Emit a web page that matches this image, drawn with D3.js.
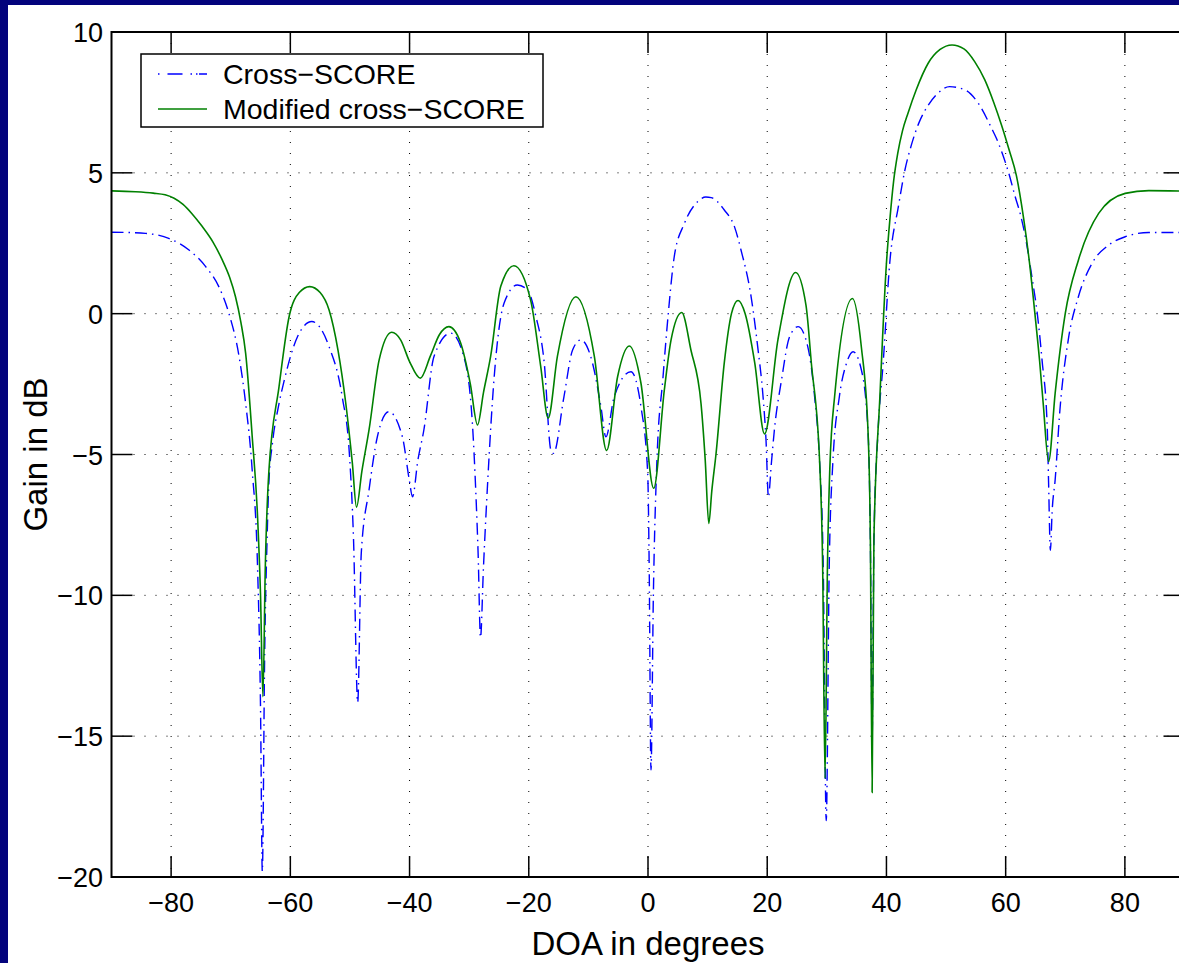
<!DOCTYPE html>
<html lang="en">
<head>
<meta charset="UTF-8">
<title>Cross-SCORE gain vs DOA</title>
<script src="https://d3js.org/d3.v7.min.js"></script>
<style>
  html, body { margin: 0; padding: 0; background: #03037c; }
  svg { display: block; }
  text { font-family: "Liberation Sans", Arial, sans-serif; fill: #000; }
</style>
</head>
<body>
<div id="chart"></div>
<script>
// values
const crossDoa = [-90, -87, -84.3, -82, -80.4, -78.5, -77, -74.2, -72, -70.3, -68.6, -67.5, -66.4, -65.5, -65, -64.7, -64.3, -63.9, -63.6, -63, -62, -61, -59.5, -58.8, -56.4, -53.5, -51.3, -50.1, -49.4, -48.7, -48.1, -46.8, -45.4, -43.5, -41.2, -40.05, -39.5, -38.6, -37.6, -35.9, -33.1, -30.9, -29.46, -28.9, -28.5, -28.1, -27.6, -26.9, -25.8, -24.15, -21.9, -20.2, -18.8, -17.4, -16.3, -15.85, -14.1, -12.65, -11.26, -9.3, -7.9, -7.06, -5.67, -2.86, -1.18, -0.05, 0.2, 0.5, 0.9, 1.5, 2.5, 3.4, 4.4, 6.1, 8.35, 9.7, 10.6, 12.8, 14.5, 15.6, 17.3, 18.4, 19.3, 19.8, 20.2, 20.7, 21.2, 22.4, 23.75, 25.2, 26.8, 27.95, 28.8, 29.4, 29.9, 30.4, 31, 32.1, 33.3, 34.4, 35.8, 36.9, 37.3, 37.6, 37.9, 38.6, 39.45, 40.55, 42, 43.1, 44.2, 45.5, 47, 48.5, 50.6, 53.2, 55.4, 57.6, 58.5, 59.5, 60.5, 61.6, 62.5, 63.5, 64.4, 65.3, 66.1, 66.97, 67.2, 67.5, 67.8, 68.3, 69.1, 70.5, 72.2, 74.5, 77.3, 80.05, 84, 90];
const crossGain = [2.89, 2.88, 2.85, 2.78, 2.67, 2.48, 2.26, 1.67, 0.96, 0.01, -1.52, -3.18, -5.55, -9, -14, -19.8, -12, -8, -6, -4.6, -3.3, -2.35, -1.2, -0.82, -0.28, -1.17, -2.95, -4.96, -8, -13.8, -8.5, -6.26, -4.37, -3.48, -4.37, -5.9, -6.5, -5.2, -4.13, -1.52, -0.69, -1.52, -3.89, -6.26, -8.5, -11.5, -9, -6, -2.24, 0.37, 1.02, 0.84, -0.1, -1.76, -4.84, -4.96, -2.95, -1.29, -0.93, -1.76, -3.3, -4.37, -2.95, -2.06, -3.3, -5.67, -9, -16.2, -10, -5.2, -2.3, 0, 2.02, 3.2, 3.98, 4.14, 4.12, 3.68, 3.09, 2.26, 0.6, -1.17, -2.95, -4.5, -6.5, -5.3, -4.13, -2.35, -0.82, -0.46, -1.17, -2.95, -5.31, -9, -18, -9, -5.31, -2.95, -1.76, -1.35, -2, -4.13, -8, -15, -8, -4.13, -1.75, 1.79, 3.8, 5.1, 6.0, 6.8, 7.4, 7.8, 8.06, 7.94, 7.47, 6.6, 6.2, 5.65, 5.0, 4.15, 3.5, 2.5, 1.31, 0.01, -1.64, -4.01, -6, -8.4, -7, -5.9, -3.42, -0.93, 0.6, 1.79, 2.44, 2.73, 2.88, 2.88];

const modDoa = [-90, -86, -83, -81, -79.5, -78, -76.5, -74.8, -73, -71.4, -70.2, -69.2, -68.3, -67.5, -66.4, -65.5, -65, -64.6, -64.2, -63.6, -61.9, -60.2, -58.5, -56.75, -55, -53.5, -52, -50.7, -49.6, -48.9, -48, -46.8, -45.1, -43, -41.5, -40, -38.2, -36.5, -35, -33.4, -31.5, -29.8, -28.6, -27.6, -26.4, -24.7, -22.5, -19.7, -18, -16.75, -15.2, -12.1, -9, -6.94, -5.1, -3.14, -1.18, 0.96, 2.74, 3.87, 5.66, 7.2, 8.9, 9.6, 10.2, 10.7, 11.4, 12.8, 14, 15.1, 16.3, 17.9, 19.55, 21.8, 24.76, 26.5, 27.4, 28.8, 29.3, 29.7, 30.1, 30.5, 31.3, 34.3, 35.8, 36.9, 37.3, 37.6, 37.9, 38.9, 40, 40.6, 41.2, 41.9, 42.7, 43.6, 45, 47, 49, 51, 53, 54.8, 56.5, 58, 59.3, 60.6, 61.8, 63, 64, 64.9, 65.7, 66.3, 67.2, 68.3, 70, 72.2, 75.6, 80.05, 84, 90];
const modGain = [4.36, 4.33, 4.28, 4.22, 4.1, 3.88, 3.55, 3.1, 2.55, 1.9, 1.3, 0.6, -0.3, -1.4, -4.35, -7.2, -10, -13.6, -9, -5.6, -2.6, -0.1, 0.75, 0.96, 0.75, 0.13, -1.3, -3.18, -5.3, -6.87, -5.6, -4.13, -1.64, -0.66, -0.93, -1.7, -2.29, -1.5, -0.75, -0.46, -1, -2.5, -3.95, -2.8, -1.52, 0.97, 1.7, 0.49, -1.87, -3.71, -1.52, 0.6, -1.52, -4.86, -2.24, -1.15, -2.47, -6.2, -2.71, -0.93, 0.04, -1.29, -3.2, -5.2, -7.45, -6.3, -5, -1.74, 0, 0.47, 0, -1.74, -4.27, -0.92, 1.46, 0.3, -1.75, -5.3, -9, -16.5, -9, -5.5, -2.95, 0.54, -1.2, -4.13, -8, -17, -8, -2.95, 1.79, 3.4, 4.7, 5.7, 6.5, 7.11, 7.95, 8.89, 9.38, 9.54, 9.4, 8.95, 8.3, 7.5, 6.7, 5.8, 4.9, 3.4, 1.8, 0.01, -1.7, -3.2, -5.25, -2.83, 0.01, 1.9, 3.56, 4.27, 4.37, 4.35];

const xTicks = [-80, -60, -40, -20, 0, 20, 40, 60, 80];
const yTicks = [-20, -15, -10, -5, 0, 5, 10];
const seriesNames = ["Cross\u2212SCORE", "Modified cross\u2212SCORE"];

const W = 1179, H = 963;
const plotL = 111.5, plotR = 1184.5, plotT = 32, plotB = 877;

const svg = d3.select("#chart").append("svg")
    .attr("width", W).attr("height", H);

// blue slide background with faint streaks
const defs = svg.append("defs");
const pat = defs.append("pattern")
    .attr("id", "streaks").attr("patternUnits", "userSpaceOnUse")
    .attr("width", 170).attr("height", 130);
pat.append("rect").attr("width", 170).attr("height", 130).attr("fill", "#03037c");
pat.append("line").attr("x1", 10).attr("y1", 60).attr("x2", 40).attr("y2", 35)
    .attr("stroke", "#3a3ab0").attr("stroke-width", 1).attr("opacity", 0.6);
pat.append("line").attr("x1", 100).attr("y1", 125).attr("x2", 125).attr("y2", 105)
    .attr("stroke", "#3a3ab0").attr("stroke-width", 1).attr("opacity", 0.5);
svg.append("rect").attr("width", W).attr("height", H).attr("fill", "url(#streaks)");

// white panel
svg.append("rect").attr("x", 8).attr("y", 5).attr("width", W - 8).attr("height", H - 5)
    .attr("fill", "#fff");

const x = d3.scaleLinear().domain([-90, 90]).range([plotL, plotR]);
const y = d3.scaleLinear().domain([-20, 10]).range([plotB, plotT]);

defs.append("clipPath").attr("id", "plotclip")
  .append("rect").attr("x", plotL).attr("y", plotT)
    .attr("width", plotR - plotL).attr("height", plotB - plotT);

// dotted grid
const grid = svg.append("g").attr("stroke", "#000").attr("stroke-width", 1)
    .attr("stroke-dasharray", "1,10");
grid.selectAll(".gx").data(xTicks).enter().append("line")
    .attr("x1", d => x(d)).attr("x2", d => x(d))
    .attr("y1", plotT).attr("y2", plotB);
grid.selectAll(".gy").data(yTicks.slice(1, -1)).enter().append("line")
    .attr("y1", d => y(d)).attr("y2", d => y(d))
    .attr("x1", plotL).attr("x2", plotR);

// curves
const line = d3.line().curve(d3.curveMonotoneX);
const plot = svg.append("g").attr("clip-path", "url(#plotclip)");

plot.append("path")
    .attr("d", line(crossDoa.map((d, i) => [x(d), y(crossGain[i])])))
    .attr("fill", "none").attr("stroke", "#0000ff").attr("stroke-width", 1.4)
    .attr("stroke-dasharray", "12,5,1.5,5");

plot.append("path")
    .attr("d", line(modDoa.map((d, i) => [x(d), y(modGain[i])])))
    .attr("fill", "none").attr("stroke", "#008000").attr("stroke-width", 1.6);

// axes box
svg.append("rect").attr("x", plotL).attr("y", plotT)
    .attr("width", plotR - plotL).attr("height", plotB - plotT)
    .attr("fill", "none").attr("stroke", "#000").attr("stroke-width", 2);

// inside ticks on all four sides
const tk = svg.append("g").attr("stroke", "#000").attr("stroke-width", 1.5);
const tl = 21;
xTicks.forEach(t => {
  tk.append("line").attr("x1", x(t)).attr("x2", x(t)).attr("y1", plotB).attr("y2", plotB - tl);
  tk.append("line").attr("x1", x(t)).attr("x2", x(t)).attr("y1", plotT).attr("y2", plotT + tl);
});
yTicks.forEach(t => {
  tk.append("line").attr("y1", y(t)).attr("y2", y(t)).attr("x1", plotL).attr("x2", plotL + tl);
  tk.append("line").attr("y1", y(t)).attr("y2", y(t)).attr("x1", plotR).attr("x2", plotR - tl);
});

const fmt = v => (v < 0 ? "\u2212" + Math.abs(v) : String(v));

svg.append("g").selectAll("text").data(xTicks).enter().append("text")
    .attr("x", d => x(d)).attr("y", 912)
    .attr("text-anchor", "middle").attr("font-size", 27)
    .text(fmt);

svg.append("g").selectAll("text").data(yTicks).enter().append("text")
    .attr("x", 103).attr("y", d => y(d) + 10)
    .attr("text-anchor", "end").attr("font-size", 27)
    .text(fmt);

svg.append("text").attr("x", (plotL + plotR) / 2).attr("y", 955)
    .attr("text-anchor", "middle").attr("font-size", 33)
    .text("DOA in degrees");

svg.append("text")
    .attr("transform", "translate(47," + ((plotT + plotB) / 2) + ") rotate(-90)")
    .attr("text-anchor", "middle").attr("font-size", 33)
    .text("Gain in dB");

// legend
const lg = svg.append("g");
lg.append("rect").attr("x", 141).attr("y", 54).attr("width", 402).attr("height", 73)
    .attr("fill", "#fff").attr("stroke", "#000").attr("stroke-width", 1.5);
const legendRows = [
  { name: seriesNames[0], color: "#0000ff", dash: "1.5,8,15,8,1.5,4,1.5" },
  { name: seriesNames[1], color: "#008000", dash: null }
];
legendRows.forEach((r, i) => {
  const ly = 74 + i * 35;
  lg.append("line").attr("x1", 158).attr("x2", 207).attr("y1", ly).attr("y2", ly)
      .attr("stroke", r.color).attr("stroke-width", 1.4)
      .attr("stroke-dasharray", r.dash);
  lg.append("text").attr("x", 223).attr("y", ly + 10)
      .attr("font-size", 28.5).text(r.name);
});
</script>
</body>
</html>
